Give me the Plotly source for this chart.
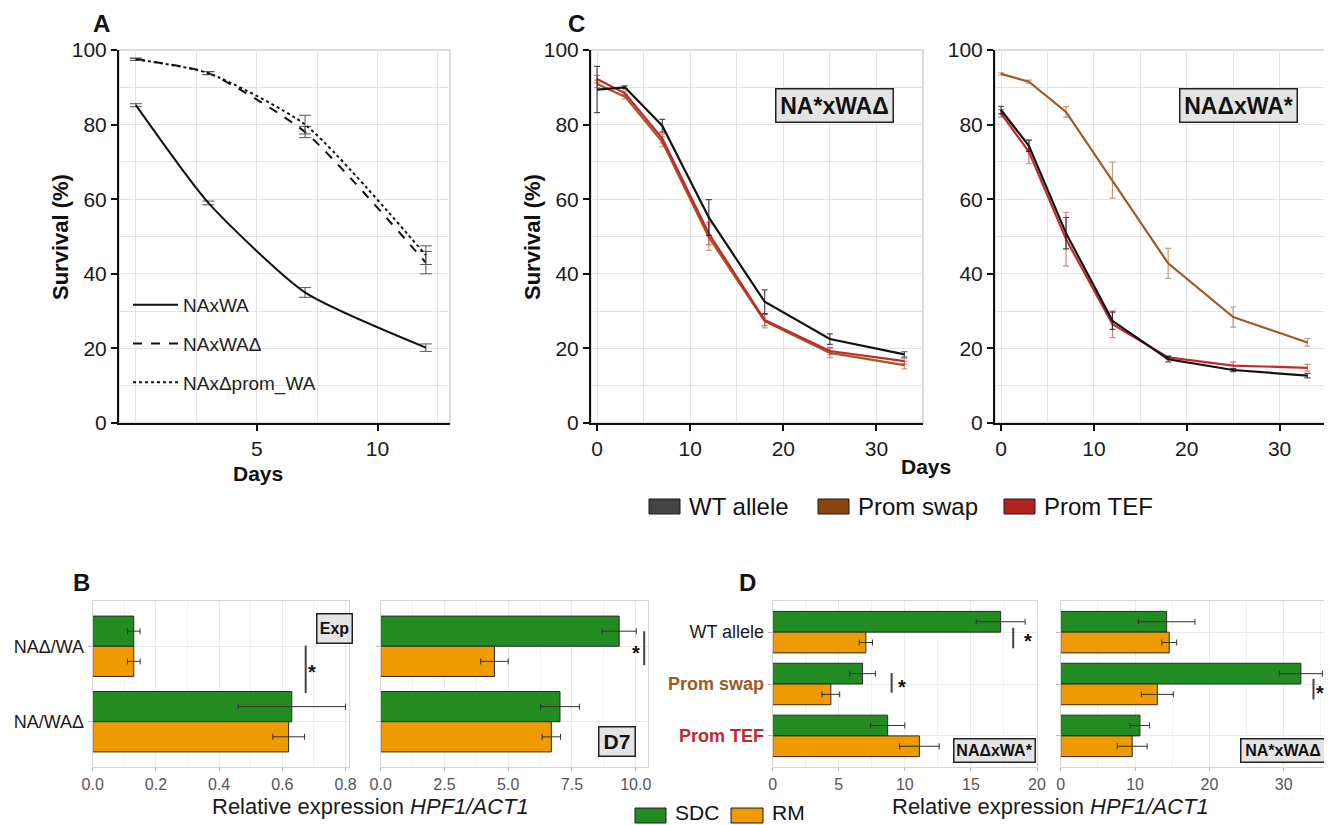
import plotly.graph_objects as go

FONT = "Liberation Sans, Arial, sans-serif"
PAGE_W, PAGE_H = 1332, 825
OFF = 8  # browser body margin
W, H = PAGE_W - OFF, PAGE_H - OFF

# ---------------- data ----------------
# Panel A
days_A = [0, 3, 7, 12]
naxwa = [85.2, 59.0, 35.0, 20.2]
naxwa_err = [0.4, 0.5, 1.3, 1.0]
naxwad = [97.5, 93.8, 78.0, 43.0]
naxwad_err = [0.3, 0.4, 1.5, 3.0]
naxdprom = [97.5, 93.8, 80.0, 45.0]
naxdprom_err = [0.3, 0.4, 2.5, 2.5]

# Panel C
days_C = [0, 3, 7, 12, 18, 25, 33]
c1_wt = [89.4, 90.0, 79.7, 55.1, 32.5, 22.5, 18.4]
c1_wt_err = [6.2, 0.4, 1.7, 4.8, 3.2, 1.4, 0.7]
c1_swap = [90.9, 87.5, 75.4, 49.8, 27.3, 18.8, 15.5]
c1_swap_err = [1.0, 0.6, 1.3, 3.5, 1.8, 1.3, 1.0]
c1_tef = [92.2, 88.4, 76.3, 50.8, 27.6, 19.3, 16.6]
c1_tef_err = [1.0, 0.6, 1.2, 3.0, 1.5, 1.0, 0.8]

c2_wt = [83.9, 74.3, 50.9, 27.4, 17.1, 14.2, 12.7]
c2_wt_err = [1.0, 1.5, 4.2, 2.3, 0.7, 0.4, 0.6]
c2_swap = [93.6, 91.5, 83.4, 65.1, 42.8, 28.4, 21.6]
c2_swap_err = [0.3, 0.4, 1.4, 4.8, 4.0, 2.7, 1.0]
c2_tef = [83.0, 72.7, 49.3, 26.5, 17.6, 15.4, 14.8]
c2_tef_err = [1.0, 3.2, 7.2, 3.6, 0.5, 1.0, 0.9]

C_legend_names = ["WT allele", "Prom swap", "Prom TEF"]

# Panel B
B_cats = ["NAΔ/WA", "NA/WAΔ"]
b_exp_sdc = [0.13, 0.63]
b_exp_sdc_err = [0.02, 0.17]
b_exp_rm = [0.13, 0.62]
b_exp_rm_err = [0.02, 0.05]
b_d7_sdc = [9.35, 7.03]
b_d7_sdc_err = [0.67, 0.76]
b_d7_rm = [4.46, 6.69]
b_d7_rm_err = [0.54, 0.36]

# Panel D
D_cats = ["WT allele", "Prom swap", "Prom TEF"]
d1_sdc = [17.25, 6.8, 8.7]
d1_sdc_err = [1.85, 0.97, 1.3]
d1_rm = [7.05, 4.4, 11.1]
d1_rm_err = [0.5, 0.67, 1.5]
d2_sdc = [14.25, 32.3, 10.66]
d2_sdc_err = [3.8, 2.9, 1.3]
d2_rm = [14.6, 13.0, 9.62]
d2_rm_err = [1.0, 2.15, 2.0]

BD_legend_names = ["SDC", "RM"]

# ---------------- styles ----------------
C_WT, C_SWAP, C_TEF = "#111111", "#A3581F", "#C4282E"
E_WT, E_SWAP, E_TEF = "rgba(20,20,20,0.75)", "rgba(163,88,31,0.6)", "rgba(196,40,46,0.6)"
S_WT, S_SWAP, S_TEF = "#444444", "#8B4513", "#B22222"
GREEN, ORANGE = "#228B22", "#EE9A00"
GRID = "#e3e3e3"


def px_x(p):
    return (p - OFF) / W


def px_y(p):
    return 1 - (p - OFF) / H


fig = go.Figure()

# ---- Panel A ----
a_specs = [
    ("NAxWA", naxwa, naxwa_err, "solid", "a1"),
    ("NAxWAΔ", naxwad, naxwad_err, "dash", "a2"),
    ("NAxΔprom_WA", naxdprom, naxdprom_err, "dot", "a3"),
]
for name, vals, errs, dash, grp in a_specs:
    fig.add_trace(go.Scatter(
        x=days_A, y=vals, mode="lines", name=name,
        line=dict(color="#111111", width=2, dash=dash, shape="spline", smoothing=0.6),
        error_y=dict(type="data", array=errs, color="#555555", thickness=1, width=6),
        xaxis="x", yaxis="y", legend="legend", legendgroup=grp, showlegend=True))

# ---- Panel C ----
for xa, ya, series in [
    ("x2", "y2", [(c1_swap, c1_swap_err, C_SWAP, E_SWAP), (c1_tef, c1_tef_err, C_TEF, E_TEF), (c1_wt, c1_wt_err, C_WT, E_WT)]),
    ("x3", "y3", [(c2_swap, c2_swap_err, C_SWAP, E_SWAP), (c2_tef, c2_tef_err, C_TEF, E_TEF), (c2_wt, c2_wt_err, C_WT, E_WT)]),
]:
    for vals, errs, col, ecol in series:
        fig.add_trace(go.Scatter(
            x=days_C, y=vals, mode="lines", line=dict(color=col, width=2.2),
            error_y=dict(type="data", array=errs, color=ecol, thickness=1.2, width=3),
            xaxis=xa, yaxis=ya, showlegend=False, hoverinfo="x+y"))

# ---- Panel B & D bars ----
bar_sets = [
    ("x4", "y4", B_cats, b_exp_sdc, b_exp_sdc_err, b_exp_rm, b_exp_rm_err),
    ("x5", "y5", B_cats, b_d7_sdc, b_d7_sdc_err, b_d7_rm, b_d7_rm_err),
    ("x6", "y6", D_cats, d1_sdc, d1_sdc_err, d1_rm, d1_rm_err),
    ("x7", "y7", D_cats, d2_sdc, d2_sdc_err, d2_rm, d2_rm_err),
]
for xa, ya, cats, sdc, sdce, rm, rme in bar_sets:
    fig.add_trace(go.Bar(
        y=cats, x=sdc, orientation="h", name=BD_legend_names[0],
        marker=dict(color=GREEN, line=dict(color="#2b2b2b", width=1)),
        error_x=dict(type="data", array=sdce, color="#333333", thickness=1, width=3),
        xaxis=xa, yaxis=ya, showlegend=False))
    fig.add_trace(go.Bar(
        y=cats, x=rm, orientation="h", name=BD_legend_names[1],
        marker=dict(color=ORANGE, line=dict(color="#2b2b2b", width=1)),
        error_x=dict(type="data", array=rme, color="#333333", thickness=1, width=3),
        xaxis=xa, yaxis=ya, showlegend=False))

# ---------------- axes ----------------
tick_big = dict(size=21, color="#1a1a1a", family=FONT)
tick_small = dict(size=16, color="#555555", family=FONT)


def surv_x(domain, rng, tickvals, minor_dtick, anchor):
    return dict(domain=domain, range=rng, tickmode="array", tickvals=tickvals, anchor=anchor,
                showgrid=True, gridcolor=GRID, gridwidth=1,
                minor=dict(tickmode="linear", tick0=0, dtick=minor_dtick, showgrid=True, gridcolor=GRID, ticks=""),
                showline=True, linecolor="#111", linewidth=2, ticks="outside", ticklen=6, tickwidth=1.5,
                tickcolor="#111", tickfont=tick_big, zeroline=False)


def surv_y(domain, anchor):
    return dict(domain=domain, range=[0, 100], tickmode="linear", tick0=0, dtick=20, anchor=anchor,
                showgrid=True, gridcolor=GRID, gridwidth=1,
                minor=dict(tickmode="linear", tick0=0, dtick=10, showgrid=True, gridcolor=GRID, ticks=""),
                showline=True, linecolor="#111", linewidth=2, ticks="outside", ticklen=6, tickwidth=1.5,
                tickcolor="#111", tickfont=tick_big, zeroline=False)


top_dom = [px_y(423), px_y(50)]
bot_dom = [px_y(767), px_y(601)]


def bar_x(domain, rng, dtick, anchor, fmt=None):
    d = dict(domain=domain, range=rng, tickmode="linear", tick0=0, dtick=dtick, anchor=anchor,
             showgrid=True, gridcolor="#ebebeb", gridwidth=1,
             minor=dict(tickmode="linear", tick0=0, dtick=dtick / 2, showgrid=True, gridcolor="#f2f2f2", ticks=""),
             showline=True, mirror=True, linecolor="#d4d4d4", linewidth=1,
             ticks="outside", ticklen=3, tickcolor="#bbbbbb", tickfont=tick_small, zeroline=False)
    if fmt:
        d["tickformat"] = fmt
    return d


def bar_y(domain, cats, rng, anchor, ticktext=None, showlabels=True, fsize=18):
    d = dict(domain=domain, type="category", categoryorder="array", categoryarray=cats, range=rng,
             anchor=anchor, showgrid=True, gridcolor="#ebebeb",
             showline=True, mirror=True, linecolor="#d4d4d4", linewidth=1,
             ticks="outside", ticklen=4, tickcolor="#bbbbbb", showticklabels=showlabels,
             tickfont=dict(size=fsize, color="#1a1a1a", family=FONT), zeroline=False)
    if ticktext is not None:
        d.update(tickmode="array", tickvals=cats, ticktext=ticktext)
    return d


D_ticktext = ["WT allele",
              "<b><span style='color:#A0591F'>Prom swap</span></b>",
              "<b><span style='color:#BE2A2F'>Prom TEF</span></b>"]

layout_axes = dict(
    xaxis=surv_x([px_x(119), px_x(450)], [-0.7, 13.0], [5, 10], 2.5, "y"),
    yaxis=surv_y(top_dom, "x"),
    xaxis2=surv_x([px_x(591), px_x(923)], [-0.65, 35.0], [0, 10, 20, 30], 5, "y2"),
    yaxis2=surv_y(top_dom, "x2"),
    xaxis3=surv_x([px_x(995), px_x(1326)], [-0.65, 35.0], [0, 10, 20, 30], 5, "y3"),
    yaxis3=surv_y(top_dom, "x3"),
    xaxis4=bar_x([px_x(92.7), px_x(349)], [0, 0.811], 0.2, "y4", ".1f"),
    yaxis4=bar_y(bot_dom, B_cats, [1.6, -0.6], "x4"),
    xaxis5=bar_x([px_x(380.7), px_x(648)], [0, 10.48], 2.5, "y5", ".1f"),
    yaxis5=bar_y(bot_dom, B_cats, [1.6, -0.6], "x5", showlabels=False),
    xaxis6=bar_x([px_x(772.7), px_x(1037)], [0, 20.0], 5, "y6"),
    yaxis6=bar_y(bot_dom, D_cats, [2.6, -0.6], "x6", ticktext=D_ticktext),
    xaxis7=bar_x([px_x(1060.7), px_x(1328)], [0, 35.95], 10, "y7"),
    yaxis7=bar_y(bot_dom, D_cats, [2.6, -0.6], "x7", showlabels=False),
)

# ---------------- annotations ----------------
ann = []


def text(x, y, t, size, bold=False, angle=0, color="#111", xanchor="center", yanchor="middle"):
    ann.append(dict(x=px_x(x), y=px_y(y), xref="paper", yref="paper", text=(f"<b>{t}</b>" if bold else t),
                    showarrow=False, textangle=angle,
                    font=dict(size=size, color=color, family=FONT), xanchor=xanchor, yanchor=yanchor))


def box(x, y, t, size, w, h):
    ann.append(dict(x=px_x(x), y=px_y(y), xref="paper", yref="paper", text=f"<b>{t}</b>", showarrow=False,
                    font=dict(size=size, color="#111", family=FONT), bgcolor="#e4e4e4",
                    bordercolor="#222", borderwidth=1.5, borderpad=2, width=w, height=h,
                    xanchor="center", yanchor="middle"))


# panel letters
text(101, 8, "A", 24, bold=True, yanchor="top")
text(81, 582, "B", 24, bold=True)
text(576, 8, "C", 24, bold=True, yanchor="top")
text(747, 582, "D", 24, bold=True)
# axis titles
text(60, 237, "Survival (%)", 22, bold=True, angle=-90)
text(258, 473, "Days", 21, bold=True)
text(532, 237, "Survival (%)", 22, bold=True, angle=-90)
text(926, 466, "Days", 21, bold=True)
text(370, 806, "Relative expression <i>HPF1/ACT1</i>", 22, color="#1a1a1a")
text(1050, 806, "Relative expression <i>HPF1/ACT1</i>", 22, color="#1a1a1a")
# label boxes
box(834, 106, "NA*xWAΔ", 23, 112, 28)
box(1238, 106, "NAΔxWA*", 23, 112, 28)
box(334, 628, "Exp", 16, 30, 24)
box(617, 741, "D7", 21, 31, 24)
box(994, 750, "NAΔxWA*", 16, 76, 18)
box(1283, 750, "NA*xWAΔ", 16, 79, 18)


# significance stars (data coordinates)
def star(xref, yref, x, y):
    ann.append(dict(x=x, y=y, xref=xref, yref=yref, text="<b>*</b>", showarrow=False,
                    font=dict(size=20, color="#111", family=FONT), xanchor="center", yanchor="middle",
                    yshift=-4))


star("x4", "y4", 0.695, 0.29)
star("x5", "y5", 10.0, 0.03)
star("x6", "y6", 19.35, 0.10)
star("x6", "y6", 9.75, 0.99)
star("x7", "y7", 34.85, 1.09)

shapes = []


def sig(xref, yref, x, y0, y1):
    shapes.append(dict(type="line", xref=xref, yref=yref, x0=x, x1=x, y0=y0, y1=y1,
                       line=dict(color="#444", width=2)))


sig("x4", "y4", 0.674, -0.01, 0.62)
sig("x5", "y5", 10.33, -0.2, 0.25)
sig("x6", "y6", 18.2, -0.085, 0.31)
sig("x6", "y6", 9.0, 0.79, 1.17)
sig("x7", "y7", 34.0, 0.9, 1.3)

# light borders (top/right) for survival panels
for xr, yr in [("x", "y"), ("x2", "y2"), ("x3", "y3")]:
    shapes.append(dict(type="rect", xref=f"{xr} domain", yref=f"{yr} domain", x0=0, x1=1, y0=0, y1=1,
                       line=dict(color="#cfcfcf", width=1.5), layer="below"))


# fill-style legend keys (swatch rectangle + label)
def key(x0, x1, y0, y1, col, label, size, ty=None):
    shapes.append(dict(type="rect", xref="paper", yref="paper", x0=px_x(x0), x1=px_x(x1),
                       y0=px_y(y1), y1=px_y(y0), fillcolor=col, line=dict(color="#1a1a1a", width=1)))
    text(x1 + 7, ty if ty is not None else (y0 + y1) / 2, label, size, color="#111", xanchor="left")


key(649, 680, 499, 514, S_WT, C_legend_names[0], 24)
key(818, 849, 499, 514, S_SWAP, C_legend_names[1], 24)
key(1004, 1035, 499, 514, S_TEF, C_legend_names[2], 24)
key(635, 666, 808, 823, GREEN, BD_legend_names[0], 21, ty=812.5)
key(731, 763, 808, 823, ORANGE, BD_legend_names[1], 21, ty=812.5)

fig.update_layout(
    width=W, height=H, margin=dict(l=0, r=0, t=0, b=0, autoexpand=False),
    paper_bgcolor="white", plot_bgcolor="white",
    font=dict(family=FONT, color="#111"),
    barmode="group", bargap=0.2, bargroupgap=0,
    annotations=ann, shapes=shapes,
    legend=dict(x=px_x(128), y=px_y(286), xanchor="left", yanchor="top", bgcolor="rgba(0,0,0,0)",
                font=dict(size=19, color="#222", family=FONT), tracegroupgap=11, itemwidth=45),
    showlegend=True,
    **layout_axes,
)

fig.write_html("out.html")
